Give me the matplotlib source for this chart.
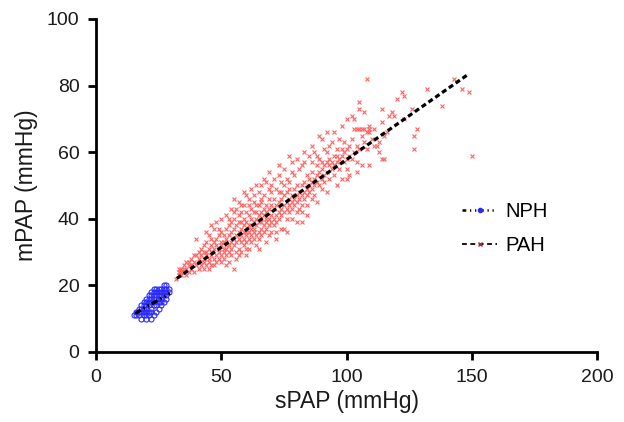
import matplotlib
matplotlib.use("Agg")
import matplotlib.pyplot as plt
from matplotlib.lines import Line2D
import numpy as np

plt.rcParams['font.family'] = ['Liberation Sans', 'DejaVu Sans']

# ---- data (sPAP, mPAP) ----
nph_points = [
    (15, 11), (16, 11), (16, 12), (17, 11), (17, 12), (17, 13), (18, 10), (18, 12), (18, 13), (18, 14),
    (19, 11), (19, 12), (19, 13), (19, 14), (19, 15), (20, 10), (20, 11), (20, 13), (20, 14), (20, 15),
    (20, 16), (21, 11), (21, 12), (21, 14), (21, 15), (21, 16), (21, 17), (22, 10), (22, 12), (22, 13),
    (22, 15), (22, 16), (22, 17), (22, 18), (23, 11), (23, 14), (23, 15), (23, 16), (23, 17), (23, 18),
    (23, 19), (24, 12), (24, 14), (24, 16), (24, 17), (24, 18), (24, 19), (25, 13), (25, 15), (25, 16),
    (25, 17), (25, 18), (25, 19), (26, 14), (26, 15), (26, 16), (26, 17), (26, 18), (26, 19), (27, 15),
    (27, 17), (27, 18), (27, 19), (27, 20), (28, 16), (28, 17), (28, 18), (28, 19), (28, 20), (29, 18),
    (29, 19), (20, 12),
]

pah_points = [
    # sPAP 32-40
    (32, 22), (33, 24), (33, 23), (34, 25), (34, 23), (35, 24), (35, 26), (36, 25), (36, 23), (37, 27),
    (37, 24), (38, 26), (38, 25), (38, 28), (39, 24), (39, 27), (40, 26), (40, 29), (40, 34), (36, 27),
    (35, 25), (34, 24), (39, 29), (37, 26), (33, 25),
    # 41-50
    (41, 25), (41, 28), (41, 30), (42, 26), (42, 27), (42, 29), (42, 31), (43, 27), (43, 28), (43, 25),
    (43, 32), (44, 26), (44, 29), (44, 30), (44, 33), (45, 27), (45, 28), (45, 31), (45, 35), (46, 26),
    (46, 29), (46, 30), (46, 32), (47, 28), (47, 31), (47, 33), (47, 37), (48, 29), (48, 27), (48, 32),
    (48, 39), (48, 34), (49, 28), (49, 30), (49, 31), (49, 35), (50, 29), (50, 32), (50, 33), (50, 36),
    (50, 27), (45, 25), (47, 26), (43, 30), (41, 27), (44, 36), (46, 38), (50, 40), (46, 34), (49, 37),
    # 51-60
    (51, 30), (51, 33), (51, 28), (51, 35), (52, 31), (52, 34), (52, 29), (52, 37), (53, 30), (53, 32),
    (53, 35), (53, 38), (54, 31), (54, 33), (54, 36), (54, 29), (55, 32), (55, 34), (55, 25), (55, 37),
    (55, 40), (55, 46), (56, 30), (56, 33), (56, 35), (56, 38), (57, 31), (57, 34), (57, 36), (57, 41),
    (58, 33), (58, 35), (58, 37), (58, 42), (58, 30), (59, 32), (59, 34), (59, 38), (59, 40), (59, 44),
    (60, 33), (60, 35), (60, 36), (60, 39), (60, 47), (60, 31), (56, 43), (53, 27), (57, 29), (52, 32),
    (54, 39), (58, 39), (51, 31), (59, 36), (60, 42), (52, 41), (54, 43), (57, 45), (59, 48), (52, 26),
    (56, 28), (60, 29), (58, 44), (53, 40), (55, 42), (57, 39),
    # 61-70
    (61, 34), (61, 36), (61, 38), (61, 41), (61, 31), (62, 35), (62, 37), (62, 40), (62, 43), (62, 33),
    (63, 34), (63, 36), (63, 39), (63, 42), (63, 45), (64, 35), (64, 38), (64, 40), (64, 44), (64, 32),
    (65, 36), (65, 39), (65, 41), (65, 48), (65, 34), (66, 37), (66, 40), (66, 42), (66, 45), (66, 35),
    (67, 38), (67, 41), (67, 43), (67, 36), (67, 47), (68, 39), (68, 42), (68, 51), (68, 37), (68, 44),
    (69, 40), (69, 38), (69, 43), (69, 46), (69, 35), (70, 39), (70, 41), (70, 36), (70, 44), (70, 48),
    (64, 42), (62, 38), (66, 39), (68, 40), (63, 37), (61, 46), (62, 49), (64, 50), (66, 50), (67, 52),
    (69, 54), (65, 31), (68, 33), (63, 47), (66, 46), (70, 50), (61, 44), (65, 44), (69, 49),
    # 71-80
    (71, 40), (71, 43), (71, 38), (71, 46), (72, 41), (72, 44), (72, 39), (72, 49), (73, 42), (73, 45),
    (73, 40), (73, 53), (74, 37), (74, 43), (74, 46), (74, 41), (75, 44), (75, 42), (75, 47), (75, 37),
    (75, 50), (76, 43), (76, 45), (76, 48), (76, 40), (77, 44), (77, 46), (77, 42), (77, 59), (77, 51),
    (78, 45), (78, 47), (78, 43), (78, 40), (79, 46), (79, 44), (79, 49), (79, 53), (80, 45), (80, 47),
    (80, 50), (80, 42), (74, 48), (76, 52), (72, 36), (71, 52), (73, 56), (75, 55), (78, 57), (80, 58),
    (72, 34), (76, 36), (80, 39), (74, 51), (78, 54), (73, 48), (77, 49),
    # 81-90
    (81, 46), (81, 48), (81, 55), (81, 43), (82, 39), (82, 47), (82, 50), (82, 44), (82, 42), (83, 48),
    (83, 57), (83, 51), (83, 46), (84, 49), (84, 47), (84, 53), (84, 44), (85, 59), (85, 50), (85, 48),
    (85, 52), (86, 51), (86, 46), (86, 54), (86, 49), (87, 60), (87, 52), (87, 50), (87, 47), (88, 53),
    (88, 51), (88, 56), (89, 65), (89, 58), (89, 54), (89, 50), (90, 55), (90, 52), (90, 49), (90, 57),
    (83, 60), (86, 62), (90, 64), (84, 41), (88, 45), (82, 56), (86, 57), (88, 59),
    # 91-100
    (91, 56), (91, 53), (91, 51), (92, 57), (92, 54), (92, 60), (93, 62), (93, 56), (93, 58), (93, 52),
    (94, 57), (94, 55), (95, 59), (95, 56), (95, 53), (96, 59), (96, 57), (96, 61), (97, 58), (97, 55),
    (98, 61), (98, 59), (98, 52), (99, 60), (99, 57), (99, 63), (100, 61), (100, 58), (100, 55), (97, 64),
    (92, 66), (95, 66), (98, 68), (100, 70), (92, 48), (96, 50), (100, 52), (91, 61), (94, 63),
    # 101-110
    (101, 53), (101, 62), (101, 59), (102, 71), (102, 64), (102, 58), (103, 70), (103, 60), (103, 67), (104, 62),
    (104, 67), (104, 57), (105, 75), (105, 73), (105, 67), (105, 61), (106, 65), (106, 56), (106, 67), (107, 72),
    (107, 67), (107, 63), (108, 82), (108, 61), (108, 66), (109, 68), (109, 67), (109, 66), (109, 56), (110, 64),
    (104, 54),
    # 111-120
    (111, 67), (111, 62), (112, 62), (113, 63), (113, 60), (114, 73), (114, 69), (114, 58), (115, 58), (115, 65),
    (117, 71), (118, 72), (119, 71), (120, 76), (116, 66),
    # 121-150
    (122, 78), (123, 77), (123, 70), (126, 73), (127, 65), (127, 61), (128, 67), (132, 79), (138, 74), (143, 82),
    (146, 79), (149, 78), (150, 59),
]

# regression lines: slope, intercept, x range
nph_fit = (0.43, 4.9, 15.6, 29.5)
pah_fit = (0.527, 5.1, 32.2, 148.6)

x_ticks = [0, 50, 100, 150, 200]
y_ticks = [0, 20, 40, 60, 80, 100]

# ---- drawing ----
fig = plt.figure(figsize=(6.24, 4.22), dpi=100)
ax = fig.add_axes([0.154, 0.166, 0.803, 0.789])

nph_s, nph_m = zip(*nph_points)
pah_s, pah_m = zip(*pah_points)

ax.plot(pah_s, pah_m, linestyle='none', marker='x', markersize=3.4,
        markeredgewidth=0.8, color='#ff6262', zorder=2)
ax.plot(nph_s, nph_m, linestyle='none', marker='o', markersize=3.6,
        markeredgewidth=0.8, markerfacecolor='none', markeredgecolor='#2b2bff', zorder=3)

nph_dash = (2.0, 1.0, 0.5, 1.0, 0.5, 1.0)
for fit, dashes in ((nph_fit, nph_dash), (pah_fit, (1.6, 1.0))):
    k, b, x0, x1 = fit
    xs = np.array([x0, x1])
    ax.plot(xs, k * xs + b, color='black', linewidth=2.3, dashes=dashes, zorder=4)

ax.set_xlim(0, 200)
ax.set_ylim(0, 100)
ax.set_xticks(x_ticks)
ax.set_yticks(y_ticks)
ax.tick_params(direction='out', length=6, width=2, labelsize=14, pad=6,
               labelcolor='#1a1a1a')
for side in ('top', 'right'):
    ax.spines[side].set_visible(False)
for side in ('left', 'bottom'):
    ax.spines[side].set_linewidth(2)

ax.set_xlabel('sPAP (mmHg)', fontsize=16.5, labelpad=3, color='#1a1a1a')
ax.set_ylabel('mPAP (mmHg)', fontsize=16.5, labelpad=6, color='#1a1a1a')

handles = [
    Line2D([0], [0], color='black', linewidth=1.8, dashes=(1.5, 1.5, 0.5, 1.5, 0.5, 1.5),
           marker='o', markersize=3, markerfacecolor='#2b2bff', markeredgecolor='#2b2bff'),
    Line2D([0], [0], color='#2a1010', linewidth=1.4, dashes=(2.5, 1.8),
           marker='x', markersize=2.5, markeredgecolor='#c02020'),
]
leg = ax.legend(handles, ['NPH', 'PAH'], loc='upper left', bbox_to_anchor=(0.695, 0.505),
                frameon=False, fontsize=14.5, handlelength=1.7, labelspacing=0.75,
                handletextpad=0.45, numpoints=1)

fig.savefig('out.png', dpi=100)
